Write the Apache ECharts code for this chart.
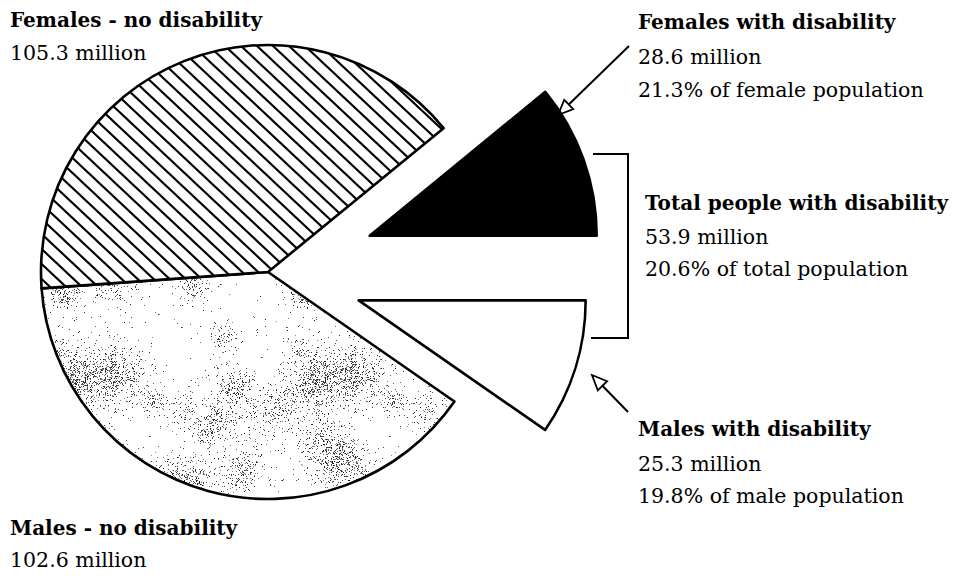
<!DOCTYPE html>
<html><head><meta charset="utf-8">
<script src="https://cdn.jsdelivr.net/npm/echarts@6/dist/echarts.min.js"></script>
<style>html,body{margin:0;padding:0;background:#fff}#c{width:954px;height:579px}</style>
</head><body><div id="c"></div>
<script>
// ---- data ----
const categories = ['Males with disability', 'Males - no disability', 'Females - no disability', 'Females with disability'];
const valuesMillion = [25.3, 102.6, 105.3, 28.6];
const shareNotes = ['19.8% of male population', '', '', '21.3% of female population'];
const totalLabel = 'Total people with disability';
const totalValue = 53.9;
const totalNote = '20.6% of total population';

// ---- textures ----
function hatchPattern() {
  const c = document.createElement('canvas'); c.width = 16; c.height = 15;
  const g = c.getContext('2d');
  g.fillStyle = '#fff'; g.fillRect(0, 0, 16, 15);
  g.strokeStyle = '#000'; g.lineWidth = 2.1; g.lineCap = 'butt';
  g.beginPath();
  for (const o of [-16, 0, 16]) { g.moveTo(o - 16, -15); g.lineTo(o + 32, 30); }
  g.stroke();
  return c.toDataURL();
}
function specklePattern() {
  const S = 240;
  const c = document.createElement('canvas'); c.width = S; c.height = S;
  const g = c.getContext('2d');
  g.fillStyle = '#fff'; g.fillRect(0, 0, S, S);
  let seed = 4242;
  const rnd = () => { seed = (seed * 1103515245 + 12345) & 0x7fffffff; return seed / 0x7fffffff; };
  const clusters = [];
  for (let i = 0; i < 24; i++) clusters.push([rnd() * S, rnd() * S, 6 + rnd() * 11, 0.08 + rnd() * 0.16]);
  const img = g.getImageData(0, 0, S, S);
  for (let y = 0; y < S; y++) for (let x = 0; x < S; x++) {
    let p = 0.008;
    for (const [cx, cy, r, a] of clusters) {
      for (const ox of [-S, 0, S]) for (const oy of [-S, 0, S]) {
        const dx = x - cx - ox, dy = y - cy - oy;
        const d2 = dx * dx + dy * dy;
        if (d2 < 9 * r * r) p += a * Math.exp(-d2 / (2 * r * r));
      }
    }
    if (rnd() < p) {
      const v = 20 + Math.floor(rnd() * 120);
      const k = (y * S + x) * 4;
      img.data[k] = img.data[k + 1] = img.data[k + 2] = v;
    }
  }
  g.putImageData(img, 0, 0);
  return c.toDataURL();
}

const fills = [
  '#ffffff',
  { image: specklePattern(), repeat: 'repeat' },
  { image: hatchPattern(), repeat: 'repeat' },
  '#000000'
];
const hidden = { opacity: 0, color: 'rgba(0,0,0,0)', borderWidth: 0 };

function makeData(visibleIdx, selectIdx) {
  return categories.map((name, i) => ({
    name, value: valuesMillion[i],
    selected: i === selectIdx,
    itemStyle: visibleIdx.includes(i) ? { color: fills[i], borderColor: '#000', borderWidth: 2.6 } : hidden
  }));
}
const base = {
  type: 'pie', center: [268, 272], radius: 227, startAngle: 0, clockwise: true,
  silent: true, selectedMode: 'multiple', animation: false,
  label: { show: false }, labelLine: { show: false }, emphasis: { disabled: true }
};

// ---- annotations ----
const FONT = '"DejaVu Serif", serif';
function txt(s, x, y, bold) {
  return { type: 'text', silent: true, style: { text: s, x, y, fill: '#000', verticalAlign: 'middle', align: 'left',
    font: (bold ? 'bold 20px ' : '20.5px ') + FONT } };
}
function arrow(tail, tip) {
  const dx = tip[0] - tail[0], dy = tip[1] - tail[1];
  const len = Math.hypot(dx, dy), ux = dx / len, uy = dy / len;
  const L = 15, W = 6.5;
  const bx = tip[0] - ux * L, by = tip[1] - uy * L;
  return [
    { type: 'polyline', silent: true, shape: { points: [tail, [bx, by]] }, style: { stroke: '#000', lineWidth: 2, fill: null } },
    { type: 'polygon', silent: true, shape: { points: [tip, [bx - uy * W, by + ux * W], [bx + uy * W, by - ux * W]] },
      style: { fill: '#fff', stroke: '#000', lineWidth: 1.8 } }
  ];
}
const m = v => v.toFixed(1) + ' million';

const graphics = [
  txt(categories[2], 10, 20, true), txt(m(valuesMillion[2]), 10, 53, false),
  txt(categories[3], 638, 22, true), txt(m(valuesMillion[3]), 638, 57, false), txt(shareNotes[3], 638, 90, false),
  txt(totalLabel, 645, 203, true), txt(m(totalValue), 645, 237, false), txt(totalNote, 645, 269, false),
  txt(categories[0], 638, 429, true), txt(m(valuesMillion[0]), 638, 464, false), txt(shareNotes[0], 638, 496, false),
  txt(categories[1], 10, 528, true), txt(m(valuesMillion[1]), 10, 560, false),
  { type: 'polyline', silent: true, shape: { points: [[593, 154], [628, 154], [628, 338], [591, 338]] },
    style: { stroke: '#000', lineWidth: 2, fill: null } },
  ...arrow([629, 46], [558, 115]),
  ...arrow([628, 412], [592, 375])
];

const chart = echarts.init(document.getElementById('c'), null, { renderer: 'svg' });
chart.setOption({
  backgroundColor: '#fff',
  animation: false,
  series: [
    Object.assign({}, base, { data: makeData([1, 2], -1) }),
    Object.assign({}, base, { selectedOffset: 108, data: makeData([3], 3) }),
    Object.assign({}, base, { selectedOffset: 95, data: makeData([0], 0) })
  ],
  graphic: graphics
});
</script></body></html>
